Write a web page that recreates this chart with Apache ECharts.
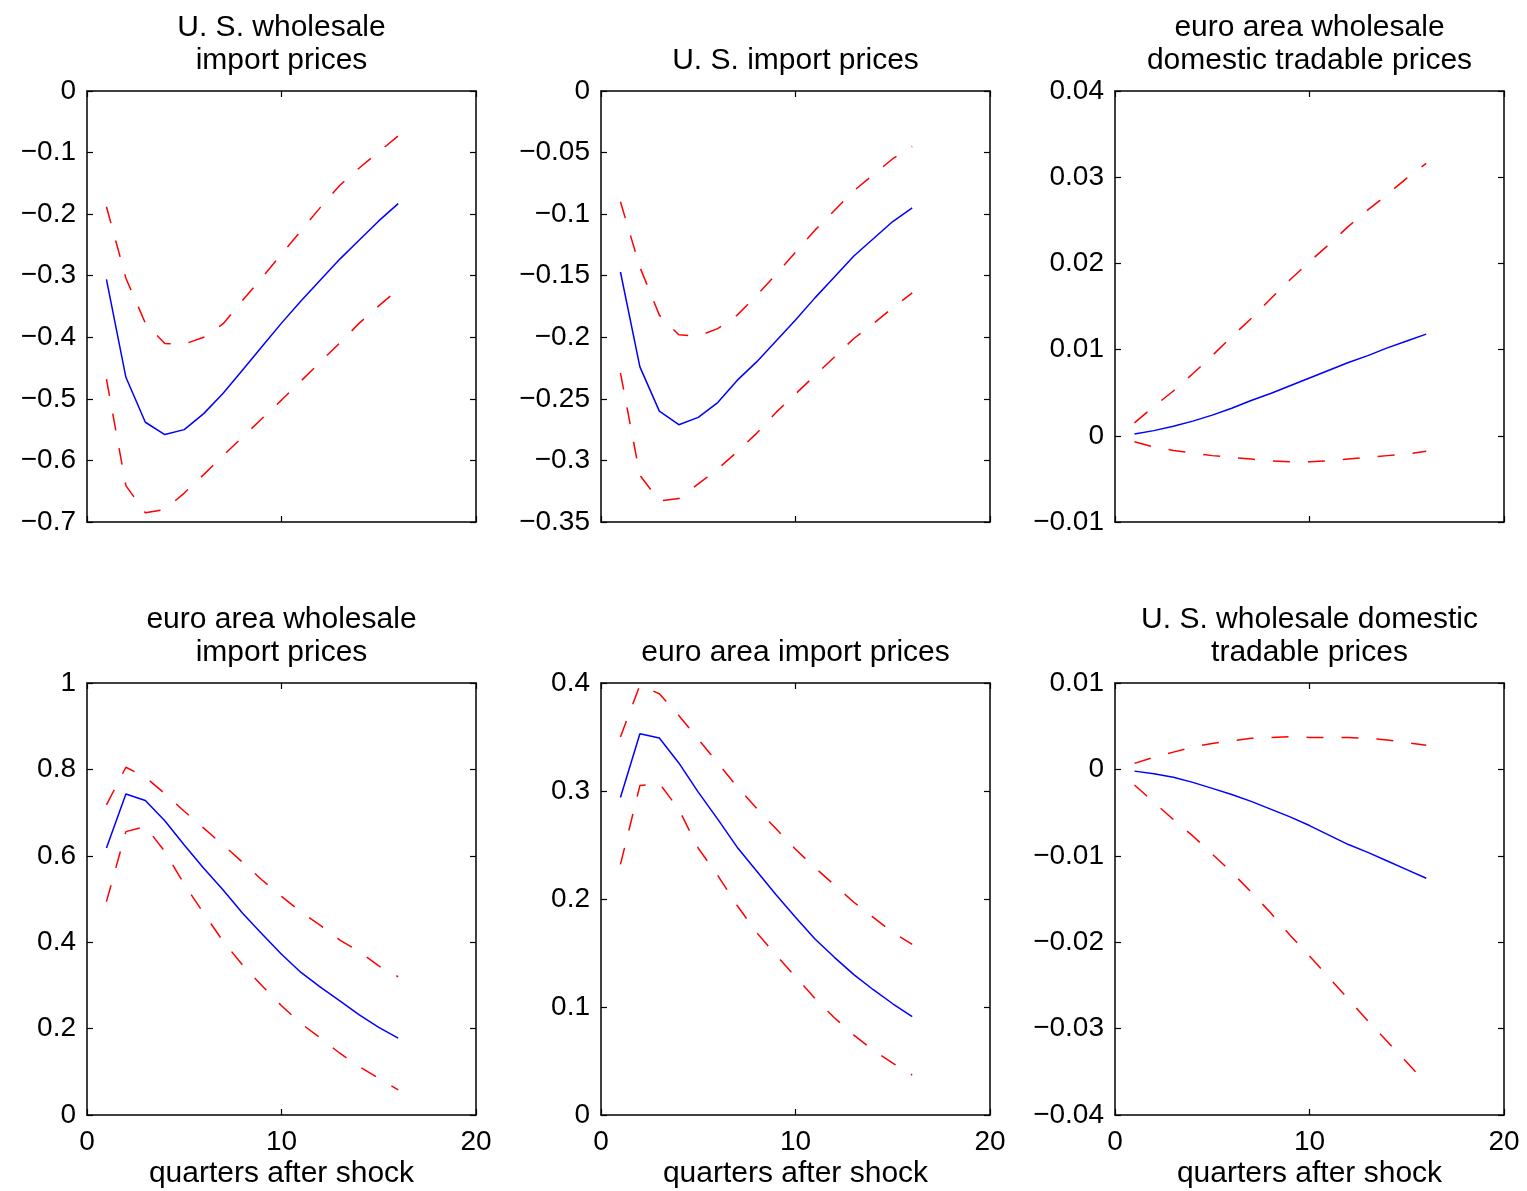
<!DOCTYPE html>
<html><head><meta charset="utf-8">
<script src="https://cdn.jsdelivr.net/npm/echarts@6/dist/echarts.min.js"></script>
<style>html,body{margin:0;padding:0;background:#fff}#c{width:1527px;height:1191px}</style>
</head><body><div id="c"></div>
<script>
// ---------------- DATA ----------------
const quarters = [1,2,3,4,5,6,7,8,9,10,11,12,13,14,15,16];

const titles = [
  'U. S. wholesale\nimport prices',
  'U. S. import prices',
  'euro area wholesale\ndomestic tradable prices',
  'euro area wholesale\nimport prices',
  'euro area import prices',
  'U. S. wholesale domestic\ntradable prices'
];
const xAxisLabel = 'quarters after shock';
const xTicks = {min: 0, max: 20, interval: 10};
const yTicks = [
  {min: -0.7,  max: 0,    interval: 0.1},
  {min: -0.35, max: 0,    interval: 0.05},
  {min: -0.01, max: 0.04, interval: 0.01},
  {min: 0,     max: 1,    interval: 0.2},
  {min: 0,     max: 0.4,  interval: 0.1},
  {min: -0.04, max: 0.01, interval: 0.01}
];

// panel 1: U.S. wholesale import prices
const usWhImpMean  = [-0.306,-0.465,-0.538,-0.558,-0.550,-0.524,-0.491,-0.453,-0.415,-0.377,-0.341,-0.307,-0.273,-0.242,-0.211,-0.183];
const usWhImpUpper = [-0.188,-0.304,-0.377,-0.410,-0.411,-0.400,-0.378,-0.340,-0.303,-0.265,-0.227,-0.189,-0.153,-0.125,-0.099,-0.073];
const usWhImpLower = [-0.468,-0.641,-0.685,-0.680,-0.653,-0.623,-0.592,-0.562,-0.532,-0.502,-0.471,-0.440,-0.409,-0.377,-0.349,-0.322];
// panel 2: U.S. import prices
const usImpMean  = [-0.147,-0.224,-0.260,-0.271,-0.265,-0.253,-0.235,-0.220,-0.203,-0.186,-0.168,-0.151,-0.134,-0.120,-0.106,-0.095];
const usImpUpper = [-0.090,-0.143,-0.182,-0.198,-0.199,-0.193,-0.182,-0.166,-0.149,-0.131,-0.113,-0.097,-0.081,-0.068,-0.055,-0.045];
const usImpLower = [-0.229,-0.312,-0.333,-0.331,-0.319,-0.307,-0.293,-0.278,-0.261,-0.246,-0.231,-0.216,-0.201,-0.189,-0.176,-0.164];
// panel 3: euro area wholesale domestic tradable prices
const euWhDomMean  = [0.0002,0.0006,0.0011,0.0017,0.0024,0.0032,0.0041,0.0049,0.0058,0.0067,0.0076,0.0085,0.0093,0.0102,0.0110,0.0118];
const euWhDomUpper = [0.0015,0.0034,0.0052,0.0072,0.0093,0.0115,0.0136,0.0159,0.0181,0.0202,0.0222,0.0243,0.0262,0.0280,0.0299,0.0316];
const euWhDomLower = [-0.0007,-0.0013,-0.0017,-0.0020,-0.0023,-0.0025,-0.0027,-0.0029,-0.0030,-0.0030,-0.0029,-0.0027,-0.0025,-0.0023,-0.0021,-0.0018];
// panel 4: euro area wholesale import prices
const euWhImpMean  = [0.618,0.743,0.728,0.681,0.625,0.571,0.521,0.467,0.419,0.372,0.330,0.296,0.264,0.232,0.203,0.178];
const euWhImpUpper = [0.718,0.805,0.782,0.744,0.703,0.664,0.625,0.585,0.544,0.506,0.470,0.439,0.405,0.378,0.345,0.320];
const euWhImpLower = [0.494,0.656,0.668,0.610,0.534,0.467,0.402,0.347,0.299,0.253,0.212,0.178,0.143,0.112,0.085,0.058];
// panel 5: euro area import prices
const euImpMean  = [0.294,0.353,0.349,0.326,0.299,0.274,0.248,0.226,0.204,0.183,0.163,0.146,0.130,0.116,0.103,0.091];
const euImpUpper = [0.350,0.398,0.390,0.370,0.348,0.326,0.304,0.284,0.265,0.246,0.229,0.213,0.197,0.183,0.169,0.158];
const euImpLower = [0.232,0.305,0.307,0.283,0.247,0.222,0.194,0.169,0.148,0.128,0.108,0.090,0.074,0.060,0.048,0.037];
// panel 6: U.S. wholesale domestic tradable prices
const usWhDomMean  = [-0.0002,-0.0005,-0.0009,-0.0015,-0.0022,-0.0029,-0.0037,-0.0046,-0.0055,-0.0065,-0.0076,-0.0087,-0.0096,-0.0106,-0.0116,-0.0126];
const usWhDomUpper = [0.0007,0.0014,0.0020,0.0026,0.0030,0.0033,0.0036,0.0037,0.0038,0.0037,0.0037,0.0037,0.0036,0.0034,0.0031,0.0028];
const usWhDomLower = [-0.0018,-0.0038,-0.0058,-0.0077,-0.0098,-0.0119,-0.0142,-0.0166,-0.0192,-0.0216,-0.0241,-0.0266,-0.0291,-0.0315,-0.0339,-0.0363];

const means  = [usWhImpMean, usImpMean, euWhDomMean, euWhImpMean, euImpMean, usWhDomMean];
const uppers = [usWhImpUpper, usImpUpper, euWhDomUpper, euWhImpUpper, euImpUpper, usWhDomUpper];
const lowers = [usWhImpLower, usImpLower, euWhDomLower, euWhImpLower, euImpLower, usWhDomLower];

// ---------------- LAYOUT ----------------
const FONT = '"Liberation Sans", Arial, Helvetica, sans-serif';
const colLefts = [87, 601, 1115];
const rowTops = [91, 683];
const rowHeights = [431, 432];
const plotW = 389;
const tickFont = 28, titleFont = 30;

const fmt = v => String(+(+v).toFixed(6)).replace('-', '\u2212');
const pairs = arr => quarters.map((q, j) => [q, arr[j]]);

const grid = [], xAxis = [], yAxis = [], series = [], title = [];
for (let i = 0; i < 6; i++) {
  const col = i % 3, row = Math.floor(i / 3);
  grid.push({left: colLefts[col], top: rowTops[row], width: plotW, height: rowHeights[row], containLabel: false});
  const axLine = {show: true, onZero: false, lineStyle: {color: '#000', width: 1.5}};
  const axTick = {show: true, inside: true, length: 6, lineStyle: {color: '#000', width: 1.2}};
  xAxis.push({
    gridIndex: i, type: 'value', position: 'bottom', min: xTicks.min, max: xTicks.max, interval: xTicks.interval,
    axisLine: axLine, axisTick: axTick, splitLine: {show: false},
    axisLabel: {show: row === 1, margin: 13, fontSize: tickFont, color: '#000', fontFamily: FONT, formatter: fmt},
    name: row === 1 ? xAxisLabel : '', nameLocation: 'middle', nameGap: 44,
    nameTextStyle: {fontSize: titleFont, color: '#000', fontFamily: FONT}
  });
  xAxis.push({
    gridIndex: i, type: 'value', position: 'top', min: xTicks.min, max: xTicks.max, interval: xTicks.interval,
    axisLine: axLine, axisTick: axTick, splitLine: {show: false}, axisLabel: {show: false}
  });
  const yt = yTicks[i];
  yAxis.push({
    gridIndex: i, type: 'value', position: 'left', min: yt.min, max: yt.max, interval: yt.interval,
    axisLine: axLine, axisTick: axTick, splitLine: {show: false},
    axisLabel: {show: true, margin: 11, fontSize: tickFont, color: '#000', fontFamily: FONT, formatter: fmt}
  });
  yAxis.push({
    gridIndex: i, type: 'value', position: 'right', min: yt.min, max: yt.max, interval: yt.interval,
    axisLine: axLine, axisTick: axTick, splitLine: {show: false}, axisLabel: {show: false}
  });
  const base = {type: 'line', xAxisIndex: 2 * i, yAxisIndex: 2 * i, symbol: 'none', showSymbol: false,
                animation: false, silent: true, clip: false};
  series.push(Object.assign({}, base, {data: pairs(uppers[i]), lineStyle: {color: '#ff0000', width: 1.5, type: [17, 18]}}));
  series.push(Object.assign({}, base, {data: pairs(lowers[i]), lineStyle: {color: '#ff0000', width: 1.5, type: [17, 18]}}));
  series.push(Object.assign({}, base, {data: pairs(means[i]), lineStyle: {color: '#0000ff', width: 1.5, type: 'solid'}}));
  const lines = titles[i].split('\n').length;
  title.push({
    text: titles[i], left: colLefts[col] + plotW / 2, top: rowTops[row] - (lines === 2 ? 80 : 47),
    textAlign: 'center', padding: 0,
    textStyle: {fontSize: titleFont, fontWeight: 'normal', color: '#000', fontFamily: FONT, lineHeight: 33}
  });
}

const chart = echarts.init(document.getElementById('c'), null, {renderer: 'canvas'});
chart.setOption({backgroundColor: '#fff', animation: false, title, grid, xAxis, yAxis, series});
</script></body></html>
